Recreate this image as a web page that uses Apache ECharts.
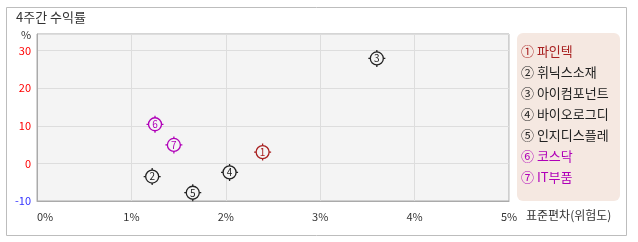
<!DOCTYPE html>
<html><head><meta charset="utf-8">
<script src="https://cdn.jsdelivr.net/npm/echarts@6/dist/echarts.min.js"></script>
<style>html,body{margin:0;padding:0;background:#fff}#c{width:638px;height:242px}</style>
</head><body><div id="c"></div>
<script>
var names = ['파인텍','휘닉스소재','아이컴포넌트','바이오로그디','인지디스플레','코스닥','IT부품'];
var marks = ['①','②','③','④','⑤','⑥','⑦'];
var digits = ['1','2','3','4','5','6','7'];
var stdev = [2.39, 1.22, 3.60, 2.04, 1.65, 1.25, 1.45];
var ret4w = [3.0, -3.5, 27.9, -2.4, -7.8, 10.4, 4.9];
var colors = ['#a82020','#222222','#222222','#222222','#222222','#b000b8','#b000b8'];
var xTicks = [0,1,2,3,4,5];
var yTicks = [-10,0,10,20,30];

var FONT = '"Noto Sans CJK KR", sans-serif';
var chart = echarts.init(document.getElementById('c'), null, {renderer:'canvas'});

var crossData = [], circData = [];
for (var i = 0; i < names.length; i++) {
  crossData.push({value:[stdev[i], ret4w[i]], itemStyle:{color:colors[i], opacity:1}});
  circData.push({value:[stdev[i], ret4w[i]], name:digits[i],
    itemStyle:{color:'#f4f4f4', borderColor:colors[i], borderWidth:1.3, opacity:1},
    label:{color:colors[i]}});
}

var graphics = [
  {type:'rect', shape:{x:6.5,y:7.5,width:620,height:228}, style:{fill:'none', stroke:'#bdbdbd', lineWidth:1}, z:-10},
  {type:'text', left:16, top:11, style:{text:'4주간 수익률', font:'13px '+FONT, fill:'#333'}},
  {type:'text', left:21, top:29, style:{text:'%', font:'11px '+FONT, fill:'#333'}},
  {type:'text', left:526, top:209, style:{text:'표준편차(위험도)', font:'12px '+FONT, fill:'#333'}},
  {type:'rect', shape:{x:517,y:33,width:103,height:168,r:6}, style:{fill:'#f5e8e1'}, z:-5}
];
for (var j = 0; j < names.length; j++) {
  graphics.push({type:'text', left:521, top:45 + j*21,
    style:{text:marks[j]+' '+names[j], font:'13px '+FONT, fill:colors[j]}});
}

chart.setOption({
  animation:false,
  textStyle:{fontFamily:FONT},
  grid:{left:37, top:34, right:129, bottom:41, show:true, backgroundColor:'#f4f4f4', borderColor:'#aaaaaa', borderWidth:1},
  xAxis:{type:'value', min:xTicks[0], max:xTicks[xTicks.length-1], interval:1,
    axisLine:{show:true, onZero:false, lineStyle:{color:'#aaaaaa'}}, axisTick:{show:false},
    axisLabel:{formatter:'{value}%', color:'#333', fontSize:11, margin:10, alignMinLabel:'left'},
    splitLine:{show:true, lineStyle:{color:'#dddddd'}}},
  yAxis:{type:'value', min:yTicks[0], max:34.4, interval:10,
    axisLine:{show:true, onZero:false, lineStyle:{color:'#aaaaaa'}}, axisTick:{show:false},
    axisLabel:{color:function(v){return v < 0 ? '#3333ff' : '#ff0000';}, fontSize:11, margin:6, showMaxLabel:false,
      formatter:function(v){return yTicks.indexOf(v) >= 0 ? String(v) : '';}},
    splitLine:{show:true, lineStyle:{color:'#dddddd'}}},
  graphic:graphics,
  series:[
    {type:'scatter', symbol:'path://M7.4,0 L8.6,0 L8.6,3 L7.4,3 Z M7.4,13 L8.6,13 L8.6,16 L7.4,16 Z M0,7.4 L3,7.4 L3,8.6 L0,8.6 Z M13,7.4 L16,7.4 L16,8.6 L13,8.6 Z',
     symbolSize:17, data:crossData, silent:true, z:2, itemStyle:{opacity:1}},
    {type:'scatter', symbol:'circle', symbolSize:13, data:circData, z:3, itemStyle:{opacity:1},
     label:{show:true, position:'inside', formatter:'{b}', fontSize:10, fontFamily:FONT}}
  ]
});
</script></body></html>
